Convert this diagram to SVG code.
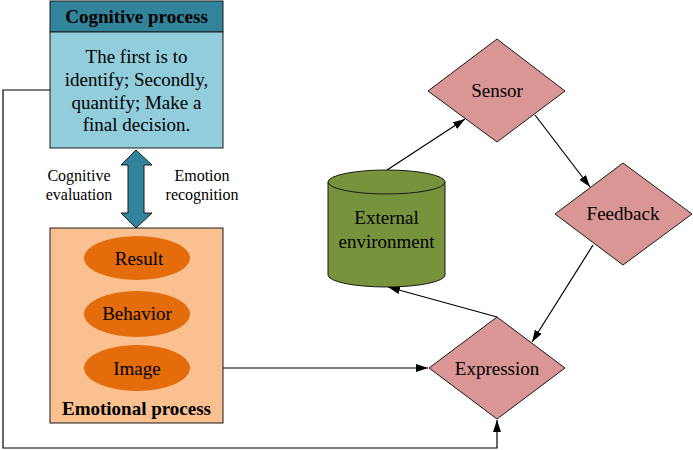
<svg xmlns="http://www.w3.org/2000/svg" width="693" height="450" viewBox="0 0 693 450">
<defs>
<marker id="ah" viewBox="0 0 12 8" refX="12" refY="4" markerWidth="12" markerHeight="8" markerUnits="userSpaceOnUse" orient="auto">
<path d="M0,0 L12,4 L0,8 Z" fill="#000"/>
</marker>
</defs>
<style>
text{fill:#000;text-anchor:middle}
.t17{font-size:19px}
.t14{font-size:16px}
.b{font-weight:bold;font-size:19px}
.dia{fill:#d99694;stroke:#1a1a1a;stroke-width:1}
.ell{fill:#e46c0a;stroke:none}
.ln{fill:none;stroke:#000;stroke-width:1.2}
</style>
<rect width="693" height="450" fill="#fff"/>

<g id="connectors">
<polyline class="ln" points="50,90 3,90 3,448 497,448 497,420" marker-end="url(#ah)"/>
<line class="ln" x1="223" y1="368" x2="428" y2="368" marker-end="url(#ah)"/>
<line class="ln" x1="387" y1="170" x2="465" y2="119" marker-end="url(#ah)"/>
<line class="ln" x1="535" y1="115" x2="590" y2="187" marker-end="url(#ah)"/>
<line class="ln" x1="593" y1="245" x2="532" y2="342" marker-end="url(#ah)"/>
<line class="ln" x1="497" y1="317" x2="388" y2="287" marker-end="url(#ah)"/>
</g>

<g font-family="'Liberation Serif', 'Times New Roman', serif">
<g id="cognitive">
<rect x="50" y="1" width="173" height="31" fill="#31849b" stroke="#1a1a1a"/>
<rect x="50" y="32" width="173" height="116" fill="#92cddc" stroke="#1a1a1a"/>
<text class="b" x="136.5" y="23">Cognitive process</text>
<text class="t17" x="136.5" y="63">The first is to</text>
<text class="t17" x="136.5" y="86">identify; Secondly,</text>
<text class="t17" x="136.5" y="109">quantify; Make a</text>
<text class="t17" x="136.5" y="131">final decision.</text>
</g>

<g id="double-arrow">
<path d="M136,150 L152,165 L144,165 L144,213 L152,213 L136,228 L121,213 L128,213 L128,165 L121,165 Z" fill="#31849b" stroke="#1a1a1a"/>
<text class="t14" x="79" y="181">Cognitive</text>
<text class="t14" x="79" y="200">evaluation</text>
<text class="t14" x="202" y="181">Emotion</text>
<text class="t14" x="202" y="200">recognition</text>
</g>

<g id="emotional">
<rect x="50" y="228" width="173" height="195" fill="#fac090" stroke="#1a1a1a"/>
<ellipse class="ell" cx="137" cy="258" rx="53" ry="22"/>
<text class="t17" x="139" y="265">Result</text>
<ellipse class="ell" cx="137" cy="314" rx="53" ry="23"/>
<text class="t17" x="137" y="320">Behavior</text>
<ellipse class="ell" cx="137" cy="368" rx="53" ry="23"/>
<text class="t17" x="137" y="375">Image</text>
<text class="b" x="136.5" y="415">Emotional process</text>
</g>

<g id="environment">
<path d="M328,182 L328,275 A58.5,12 0 0 0 445,275 L445,182" fill="#77933c" stroke="#1a1a1a"/>
<ellipse cx="386.5" cy="182" rx="58.5" ry="12" fill="#77933c" stroke="#1a1a1a"/>
<text class="t17" x="386.5" y="224">External</text>
<text class="t17" x="386.5" y="248">environment</text>
</g>

<g id="sensor">
<polygon class="dia" points="497,39 565,91 497,142 428,91"/>
<text class="t17" x="497" y="97">Sensor</text>
</g>

<g id="feedback">
<polygon class="dia" points="623,163 692,214 623,265 555,214"/>
<text class="t17" x="623" y="220">Feedback</text>
</g>

<g id="expression">
<polygon class="dia" points="497,317 565,368 497,419 429,368"/>
<text class="t17" x="497" y="375">Expression</text>
</g>
</g>
</svg>
